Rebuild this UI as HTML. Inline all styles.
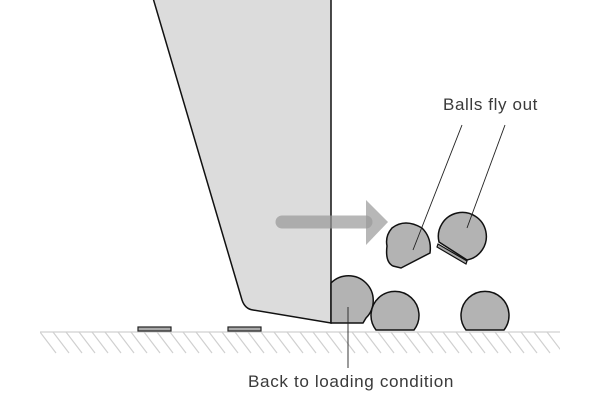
<!DOCTYPE html>
<html><head><style>body{margin:0;background:#fff}svg{display:block}</style></head><body>
<svg width="600" height="400" viewBox="0 0 600 400" xmlns="http://www.w3.org/2000/svg">
<defs><clipPath id="g"><rect x="40" y="332" width="520" height="22"/></clipPath></defs>
<g clip-path="url(#g)" stroke="#d0d0d0" stroke-width="1.2">
<path d="M40 332l16 21M53 332l16 21M66 332l16 21M79 332l16 21M92 332l16 21M105 332l16 21M118 332l16 21M131 332l16 21M144 332l16 21M157 332l16 21M170 332l16 21M183 332l16 21M196 332l16 21M209 332l16 21M222 332l16 21M235 332l16 21M248 332l16 21M261 332l16 21M274 332l16 21M287 332l16 21M300 332l16 21M313 332l16 21M326 332l16 21M339 332l16 21M352 332l16 21M365 332l16 21M378 332l16 21M391 332l16 21M404 332l16 21M417 332l16 21M430 332l16 21M443 332l16 21M456 332l16 21M469 332l16 21M482 332l16 21M495 332l16 21M508 332l16 21M521 332l16 21M534 332l16 21M547 332l16 21"/>
</g>
<line x1="40" y1="332" x2="560" y2="332" stroke="#d0d0d0" stroke-width="1.2"/>
<rect x="138" y="327" width="33" height="4" fill="#aaa" stroke="#222" stroke-width="1.2"/>
<rect x="228" y="327" width="33" height="4" fill="#aaa" stroke="#222" stroke-width="1.2"/>
<path d="M153 -2L242 300Q245 309 253 310L331 323L331 -2" fill="#dcdcdc" stroke="#111" stroke-width="1.5"/>
<path d="M331 323V283A22 22 0 0 1 366 318L363 323Z" fill="#b3b3b3" stroke="#111" stroke-width="1.5"/>
<path d="M376 330A24 24 0 1 1 414 330Z" fill="#b3b3b3" stroke="#111" stroke-width="1.5"/>
<path d="M466 330A24 24 0 1 1 504 330Z" fill="#b3b3b3" stroke="#111" stroke-width="1.5"/>
<line x1="282" y1="222" x2="366" y2="222" stroke="#999" stroke-width="13" stroke-linecap="round" opacity="0.7"/>
<polygon points="366,200 388,222 366,245" fill="#999" opacity="0.7"/>
<path d="M401 268L430 253Q432 238 422 228Q405 218 392 228Q385 236 387 246Q385 262 393 266Z" fill="#b3b3b3" stroke="#111" stroke-width="1.5"/>
<path d="M439 242A24 24 0 1 1 467 260Z" fill="#b3b3b3" stroke="#111" stroke-width="1.5"/>
<path d="M438 244L467 261L466 264L437 247Z" fill="#aaa" stroke="#111" stroke-width="1.2"/>
<g stroke="#222" stroke-width="0.9">
<line x1="462" y1="125" x2="413" y2="250"/>
<line x1="505" y1="125" x2="467" y2="228"/>
<line x1="348" y1="307" x2="348" y2="368"/>
</g>
<g font-family="Liberation Sans, sans-serif" font-size="16.5" fill="#3a3a3a" letter-spacing="0.6">
<text x="443" y="110" textLength="95" lengthAdjust="spacingAndGlyphs">Balls fly out</text>
<text x="248" y="387" textLength="206" lengthAdjust="spacingAndGlyphs">Back to loading condition</text>
</g>
</svg>
</body></html>
